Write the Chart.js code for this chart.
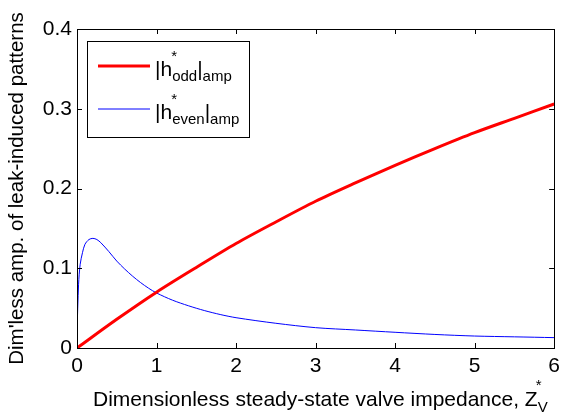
<!DOCTYPE html>
<html>
<head>
<meta charset="utf-8">
<script src="https://cdn.jsdelivr.net/npm/chart.js@4"></script>
<style>
  html, body { margin: 0; padding: 0; background: #fff; }
  #wrap { width: 566px; height: 417px; }
</style>
</head>
<body>
<div id="wrap"><canvas id="chart" width="566" height="417"></canvas></div>
<script>
// data
const oddZ   = [0, 0.5, 1, 1.5, 2, 2.5, 3, 3.5, 4, 4.5, 5, 5.5, 6];
const oddAmp = [0, 0.036, 0.070, 0.101, 0.131, 0.158, 0.184, 0.207, 0.229, 0.250, 0.270, 0.288, 0.306];

const evenZ   = [0, 0.02, 0.04, 0.07, 0.1, 0.15, 0.2, 0.25, 0.3, 0.4, 0.5, 0.6, 0.7, 0.8, 0.9, 1, 1.2, 1.4, 1.6, 1.8, 2, 2.5, 3, 3.5, 4, 4.5, 5, 5.5, 6];
const evenAmp = [0.02, 0.08, 0.105, 0.12, 0.13, 0.136, 0.1375, 0.136, 0.132, 0.121, 0.109, 0.099, 0.090, 0.082, 0.075, 0.069, 0.060, 0.053, 0.047, 0.042, 0.038, 0.031, 0.0255, 0.0226, 0.0197, 0.017, 0.015, 0.014, 0.013];

const xTicks = [0, 1, 2, 3, 4, 5, 6];
const yTicks = [0, 0.1, 0.2, 0.3, 0.4];

const FONT = 'Liberation Sans, Arial, sans-serif';
const pts = (xs, ys) => xs.map((x, i) => ({ x: x, y: ys[i] }));

// box, inward ticks, legend and x title like a MATLAB figure
const matlabFrame = {
  id: 'matlabFrame',
  afterDraw(chart) {
    const c = chart.ctx, a = chart.chartArea;
    const sx = chart.scales.x, sy = chart.scales.y;
    c.save();
    c.strokeStyle = '#000';
    c.lineWidth = 1;
    c.strokeRect(Math.round(a.left) + 0.5, Math.round(a.top) + 0.5,
                 Math.round(a.right - a.left), Math.round(a.bottom - a.top));
    c.beginPath();
    xTicks.forEach(v => {
      const px = Math.round(sx.getPixelForValue(v)) + 0.5;
      c.moveTo(px, a.bottom); c.lineTo(px, a.bottom - 5);
      c.moveTo(px, a.top); c.lineTo(px, a.top + 5);
    });
    yTicks.forEach(v => {
      const py = Math.round(sy.getPixelForValue(v)) + 0.5;
      c.moveTo(a.left, py); c.lineTo(a.left + 5, py);
      c.moveTo(a.right, py); c.lineTo(a.right - 5, py);
    });
    c.stroke();

    // legend
    c.fillStyle = '#fff';
    c.fillRect(87, 41, 162, 96);
    c.strokeRect(87.5, 41.5, 162, 96);
    const entries = [
      { color: '#ff0000', width: 3, sub: 'odd', y: 66 },
      { color: '#0000ff', width: 1, sub: 'even', y: 109 }
    ];
    entries.forEach(e => {
      c.strokeStyle = e.color;
      c.lineWidth = e.width;
      c.beginPath();
      c.moveTo(98, e.y); c.lineTo(150, e.y);
      c.stroke();
      c.fillStyle = '#000';
      c.textBaseline = 'alphabetic';
      c.textAlign = 'left';
      let x = 155;
      const base = e.y + 10;
      c.font = '21px ' + FONT;
      c.fillText('|h', x, base);
      x += c.measureText('|h').width;
      c.font = '15px ' + FONT;
      c.fillText('*', x - 1, base - 15);
      c.fillText(e.sub, x, base + 5);
      x += c.measureText(e.sub).width;
      c.font = '21px ' + FONT;
      c.fillText('|', x, base);
      x += c.measureText('|').width;
      c.font = '15px ' + FONT;
      c.fillText('amp', x, base + 5);
    });

    // x axis title
    c.fillStyle = '#000';
    c.font = '21px ' + FONT;
    const main = 'Dimensionless steady-state valve impedance, Z';
    const w = c.measureText(main).width;
    const x0 = 93;
    const base = 406;
    c.fillText(main, x0, base);
    c.font = '15px ' + FONT;
    c.fillText('*', x0 + w - 2, base - 16);
    c.fillText('V', x0 + w, base + 6);
    c.restore();
  }
};

new Chart(document.getElementById('chart'), {
  type: 'line',
  data: {
    datasets: [
      {
        label: '|h*odd|amp',
        data: pts(oddZ, oddAmp),
        borderColor: '#ff0000',
        borderWidth: 3,
        pointRadius: 0,
        tension: 0.3,
        fill: false
      },
      {
        label: '|h*even|amp',
        data: pts(evenZ, evenAmp),
        borderColor: '#0000ff',
        borderWidth: 1,
        pointRadius: 0,
        tension: 0.3,
        fill: false
      }
    ]
  },
  options: {
    responsive: false,
    animation: false,
    layout: { padding: { top: 29, right: 6, left: 0, bottom: 0 } },
    plugins: { legend: { display: false }, tooltip: { enabled: false } },
    scales: {
      x: {
        type: 'linear',
        min: 0, max: 6,
        afterBuildTicks: s => { s.ticks = xTicks.map(v => ({ value: v })); },
        afterFit: s => { s.height = 69; },
        grid: { display: false, drawTicks: false },
        border: { display: true, color: '#000' },
        ticks: { color: '#000', padding: 6, font: { family: FONT, size: 21 }, maxRotation: 0 }
      },
      y: {
        min: 0, max: 0.4,
        afterBuildTicks: s => { s.ticks = yTicks.map(v => ({ value: v })); },
        afterFit: s => { s.width = 77; },
        grid: { display: false, drawTicks: false },
        border: { display: true, color: '#000' },
        ticks: {
          color: '#000', padding: 5, font: { family: FONT, size: 21 },
          callback: v => v === 0 ? '0' : v.toFixed(1)
        },
        title: {
          display: true,
          text: "Dim'less amp. of leak-induced patterns",
          color: '#000',
          font: { family: FONT, size: 20.5 },
          padding: { top: 5, bottom: 0 }
        }
      }
    }
  },
  plugins: [matlabFrame]
});
</script>
</body>
</html>
